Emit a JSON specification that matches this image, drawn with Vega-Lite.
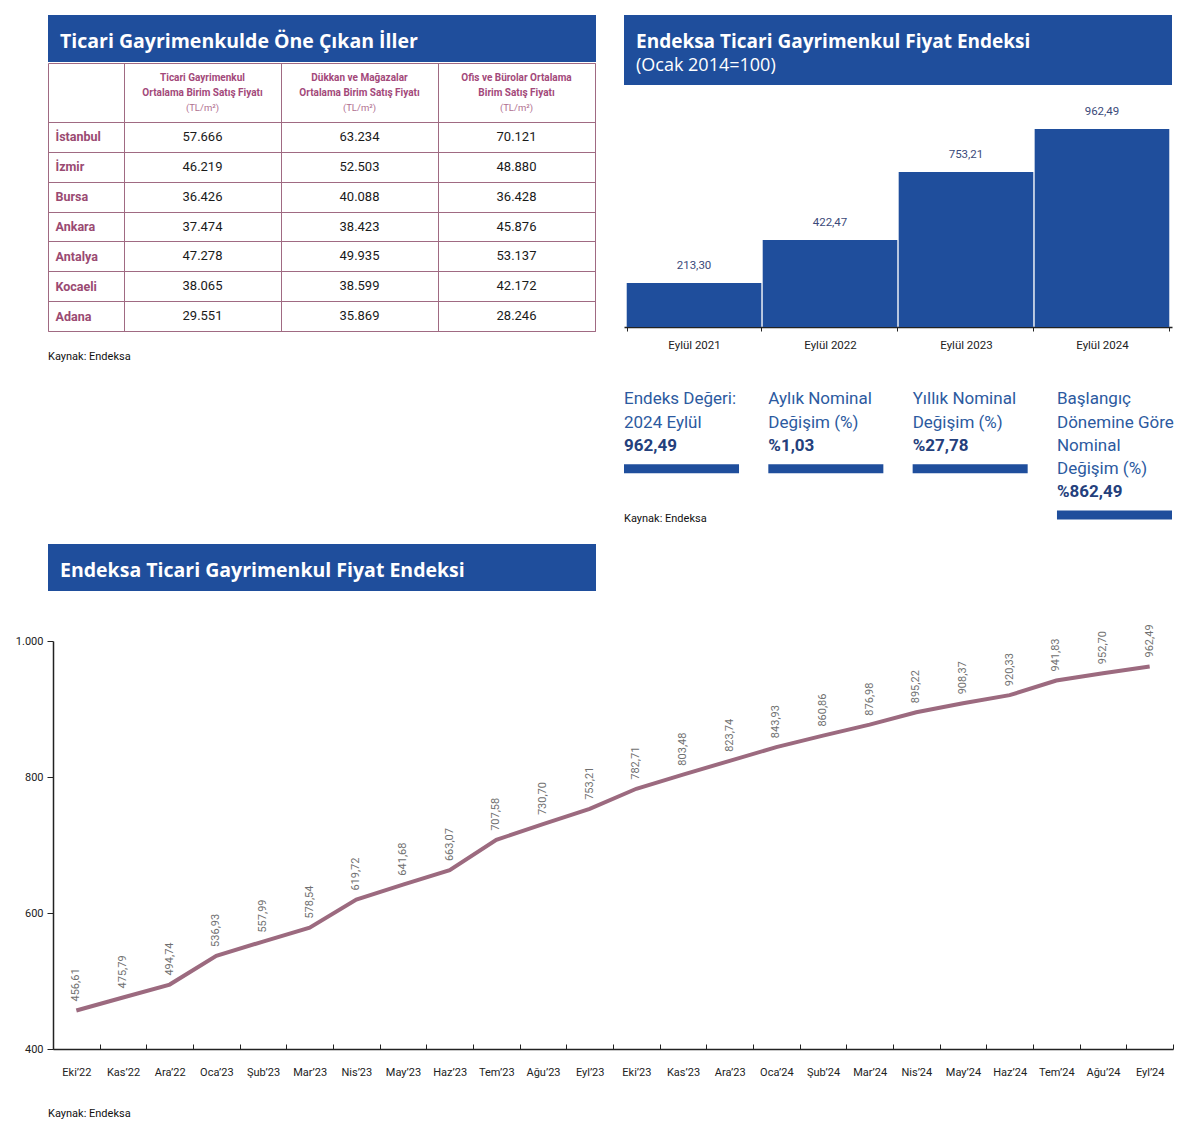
{
  "$schema": "https://vega.github.io/schema/vega-lite/v6.json",
  "background": "white",
  "padding": {"left": 15, "top": 15, "right": 20, "bottom": 10},
  "autosize": {"type": "pad"},
  "config": {
    "view": {"stroke": null},
    "font": "Roboto",
    "locale": {"number": {"decimal": ",", "thousands": ".", "grouping": [3], "currency": ["", ""]}},
    "axis": {"labelFont": "Roboto"}
  },
  "datasets": {
    "table": [
      {"il": "İstanbul", "tg": 57666, "dm": 63234, "ob": 70121},
      {"il": "İzmir", "tg": 46219, "dm": 52503, "ob": 48880},
      {"il": "Bursa", "tg": 36426, "dm": 40088, "ob": 36428},
      {"il": "Ankara", "tg": 37474, "dm": 38423, "ob": 45876},
      {"il": "Antalya", "tg": 47278, "dm": 49935, "ob": 53137},
      {"il": "Kocaeli", "tg": 38065, "dm": 38599, "ob": 42172},
      {"il": "Adana", "tg": 29551, "dm": 35869, "ob": 28246}
    ],
    "tableHeader": [
      {"col": "tg", "line": 1, "text": "Ticari Gayrimenkul"},
      {"col": "tg", "line": 2, "text": "Ortalama Birim Satış Fiyatı"},
      {"col": "tg", "line": 3, "text": "(TL/m²)"},
      {"col": "dm", "line": 1, "text": "Dükkan ve Mağazalar"},
      {"col": "dm", "line": 2, "text": "Ortalama Birim Satış Fiyatı"},
      {"col": "dm", "line": 3, "text": "(TL/m²)"},
      {"col": "ob", "line": 1, "text": "Ofis ve Bürolar Ortalama"},
      {"col": "ob", "line": 2, "text": "Birim Satış Fiyatı"},
      {"col": "ob", "line": 3, "text": "(TL/m²)"}
    ],
    "annual": [
      {"donem": "Eylül 2021", "endeks": 213.30},
      {"donem": "Eylül 2022", "endeks": 422.47},
      {"donem": "Eylül 2023", "endeks": 753.21},
      {"donem": "Eylül 2024", "endeks": 962.49}
    ],
    "kpi": [
      {"kpi": "Endeks Değeri", "line": 1, "kind": "label", "text": "Endeks Değeri:"},
      {"kpi": "Endeks Değeri", "line": 2, "kind": "label", "text": "2024 Eylül"},
      {"kpi": "Endeks Değeri", "line": 3, "kind": "value", "text": "962,49"},
      {"kpi": "Endeks Değeri", "line": 4, "kind": "bar", "text": ""},
      {"kpi": "Aylık", "line": 1, "kind": "label", "text": "Aylık Nominal"},
      {"kpi": "Aylık", "line": 2, "kind": "label", "text": "Değişim (%)"},
      {"kpi": "Aylık", "line": 3, "kind": "value", "text": "%1,03"},
      {"kpi": "Aylık", "line": 4, "kind": "bar", "text": ""},
      {"kpi": "Yıllık", "line": 1, "kind": "label", "text": "Yıllık Nominal"},
      {"kpi": "Yıllık", "line": 2, "kind": "label", "text": "Değişim (%)"},
      {"kpi": "Yıllık", "line": 3, "kind": "value", "text": "%27,78"},
      {"kpi": "Yıllık", "line": 4, "kind": "bar", "text": ""},
      {"kpi": "Başlangıç", "line": 1, "kind": "label", "text": "Başlangıç"},
      {"kpi": "Başlangıç", "line": 2, "kind": "label", "text": "Dönemine Göre"},
      {"kpi": "Başlangıç", "line": 3, "kind": "label", "text": "Nominal"},
      {"kpi": "Başlangıç", "line": 4, "kind": "label", "text": "Değişim (%)"},
      {"kpi": "Başlangıç", "line": 5, "kind": "value", "text": "%862,49"},
      {"kpi": "Başlangıç", "line": 6, "kind": "bar", "text": ""}
    ],
    "monthly": [
      {"ay": "Eki’22", "endeks": 456.61},
      {"ay": "Kas’22", "endeks": 475.79},
      {"ay": "Ara’22", "endeks": 494.74},
      {"ay": "Oca’23", "endeks": 536.93},
      {"ay": "Şub’23", "endeks": 557.99},
      {"ay": "Mar’23", "endeks": 578.54},
      {"ay": "Nis’23", "endeks": 619.72},
      {"ay": "May’23", "endeks": 641.68},
      {"ay": "Haz’23", "endeks": 663.07},
      {"ay": "Tem’23", "endeks": 707.58},
      {"ay": "Ağu’23", "endeks": 730.70},
      {"ay": "Eyl’23", "endeks": 753.21},
      {"ay": "Eki’23", "endeks": 782.71},
      {"ay": "Kas’23", "endeks": 803.48},
      {"ay": "Ara’23", "endeks": 823.74},
      {"ay": "Oca’24", "endeks": 843.93},
      {"ay": "Şub’24", "endeks": 860.86},
      {"ay": "Mar’24", "endeks": 876.98},
      {"ay": "Nis’24", "endeks": 895.22},
      {"ay": "May’24", "endeks": 908.37},
      {"ay": "Haz’24", "endeks": 920.33},
      {"ay": "Tem’24", "endeks": 941.83},
      {"ay": "Ağu’24", "endeks": 952.70},
      {"ay": "Eyl’24", "endeks": 962.49}
    ]
  },
  "spacing": 17,
  "vconcat": [
    {
      "hconcat": [
        {
          "spacing": -6,
          "vconcat": [
            {
              "width": 548, "height": 47,
              "data": {"values": [{}]},
              "mark": {"type": "rect", "color": "#1f4e9c"},
              "encoding": {},
              "title": {"text": "Ticari Gayrimenkulde Öne Çıkan İller", "anchor": "start", "frame": "group", "offset": -37, "dx": 12, "baseline": "top", "color": "white", "font": "Open Sans", "fontSize": 19.5, "fontWeight": "bold"}
            },
            {
              "width": 547, "height": 268,
              "view": {"stroke": "#a06a82", "strokeWidth": 1},
              "resolve": {"scale": {"y": "independent"}},
              "title": {"text": "Kaynak: Endeksa", "orient": "bottom", "anchor": "start", "frame": "group", "offset": 19, "baseline": "top", "color": "#111", "fontSize": 11, "fontWeight": "normal"},
              "layer": [
                {
                  "data": {"name": "table"},
                  "transform": [{"fold": ["tg", "dm", "ob"], "as": ["col", "val"]}],
                  "mark": {"type": "text", "fontSize": 13, "color": "#1a1a1a"},
                  "encoding": {
                    "x": {"field": "col", "type": "nominal", "scale": {"domain": ["tg", "dm", "ob"], "range": [76, 547], "paddingInner": 0, "paddingOuter": 0},
                      "axis": {"orient": "top", "title": null, "labels": false, "ticks": true, "tickSize": -59, "tickColor": "#a06a82", "tickWidth": 1, "domain": false, "grid": true, "tickBand": "extent", "gridColor": "#a06a82", "gridOpacity": 1, "gridWidth": 1}},
                    "y": {"field": "il", "type": "nominal", "sort": null,
                      "scale": {"domain": ["İstanbul", "İzmir", "Bursa", "Ankara", "Antalya", "Kocaeli", "Adana"], "range": [59, 268], "paddingInner": 0, "paddingOuter": 0},
                      "axis": {"orient": "left", "title": null, "ticks": true, "tickSize": -76, "tickColor": "#a06a82", "tickWidth": 1, "domain": false, "grid": true, "tickBand": "extent", "gridColor": "#a06a82", "gridOpacity": 1, "gridWidth": 1, "labelAlign": "left", "labelPadding": 69, "labelColor": "#9a4a72", "labelFontWeight": "bold", "labelFontSize": 12.5}},
                    "text": {"field": "val", "type": "quantitative", "format": ",d"}
                  }
                },
                {
                  "data": {"name": "tableHeader"},
                  "transform": [{"filter": "datum.line < 3"}],
                  "mark": {"type": "text", "fontSize": 10, "fontWeight": "bold", "color": "#a3497a"},
                  "encoding": {
                    "x": {"field": "col", "type": "nominal"},
                    "y": {"field": "line", "type": "ordinal", "scale": {"domain": [1, 2], "range": [7.5, 37.5]}, "axis": null},
                    "text": {"field": "text"}
                  }
                },
                {
                  "data": {"name": "tableHeader"},
                  "transform": [{"filter": "datum.line == 3"}],
                  "mark": {"type": "text", "fontSize": 9.5, "color": "#b0708f"},
                  "encoding": {
                    "x": {"field": "col", "type": "nominal"},
                    "y": {"field": "line", "type": "ordinal", "scale": {"domain": [3], "range": [37.5, 52.5]}, "axis": null},
                    "text": {"field": "text"}
                  }
                }
              ]
            }
          ]
        },
        {
          "spacing": 0,
          "vconcat": [
            {
              "width": 548, "height": 70,
              "data": {"values": [{}]},
              "mark": {"type": "rect", "color": "#1f4e9c"},
              "encoding": {},
              "title": {"text": "Endeksa Ticari Gayrimenkul Fiyat Endeksi", "subtitle": "(Ocak 2014=100)", "anchor": "start", "frame": "group", "offset": -60, "dx": 12, "baseline": "top", "color": "white", "font": "Open Sans", "fontSize": 19, "fontWeight": "bold", "subtitleColor": "white", "subtitleFont": "Open Sans", "subtitleFontSize": 18, "subtitleFontWeight": "normal", "subtitlePadding": 5}
            },
            {
              "width": 548, "height": 242,
              "data": {"name": "annual"},
              "encoding": {
                "x": {"field": "donem", "type": "nominal", "sort": null, "scale": {"paddingInner": 0.01, "paddingOuter": 0.02},
                  "axis": {"title": null, "labelAngle": 0, "domainColor": "#222", "domainWidth": 1.5, "tickColor": "#222", "tickSize": 4, "tickBand": "extent", "labelPadding": 8, "labelFontSize": 11.5, "labelColor": "#222"}},
                "y": {"field": "endeks", "type": "quantitative", "scale": {"domain": [0, 1176], "nice": false}, "axis": null}
              },
              "layer": [
                {"mark": {"type": "bar", "color": "#1f4e9c"}},
                {"mark": {"type": "text", "baseline": "bottom", "dy": -12, "fontSize": 11.5, "color": "#3b4a7a"},
                  "encoding": {"text": {"field": "endeks", "type": "quantitative", "format": ",.2f"}}}
              ]
            },
            {
              "width": 548, "height": 175.5,
              "data": {"name": "kpi"},
              "title": {"text": "Kaynak: Endeksa", "orient": "bottom", "anchor": "start", "frame": "group", "offset": -14, "baseline": "top", "color": "#111", "fontSize": 11, "fontWeight": "normal"},
              "encoding": {
                "x": {"field": "kpi", "type": "nominal", "sort": null, "scale": {"paddingInner": 0.203, "paddingOuter": 0}, "axis": null},
                "y": {"field": "line", "type": "ordinal", "scale": {"domain": [1, 2, 3, 4, 5, 6], "paddingInner": 0, "paddingOuter": 0.8, "align": 1}, "axis": null}
              },
              "layer": [
                {
                  "transform": [{"filter": "datum.kind == 'label'"}],
                  "mark": {"type": "text", "align": "left", "fontSize": 17, "color": "#2c5aa0"},
                  "encoding": {"x": {"field": "kpi", "type": "nominal", "sort": null, "bandPosition": 0}, "text": {"field": "text"}}
                },
                {
                  "transform": [{"filter": "datum.kind == 'value'"}],
                  "mark": {"type": "text", "align": "left", "fontSize": 17, "fontWeight": "bold", "color": "#24407c"},
                  "encoding": {"x": {"field": "kpi", "type": "nominal", "sort": null, "bandPosition": 0}, "text": {"field": "text"}}
                },
                {
                  "transform": [{"filter": "datum.kind == 'bar'"}],
                  "mark": {"type": "bar", "height": 9, "color": "#1f4e9c"}
                }
              ]
            }
          ]
        }
      ],
      "spacing": 28
    },
    {
      "spacing": 33,
      "vconcat": [
        {
          "width": 548, "height": 47,
          "data": {"values": [{}]},
          "mark": {"type": "rect", "color": "#1f4e9c"},
          "encoding": {},
          "title": {"text": "Endeksa Ticari Gayrimenkul Fiyat Endeksi", "anchor": "start", "frame": "group", "offset": -37, "dx": 12, "baseline": "top", "color": "white", "font": "Open Sans", "fontSize": 19.5, "fontWeight": "bold"}
        },
        {
          "width": 1125, "height": 408,
          "data": {"name": "monthly"},
          "title": {"text": "Kaynak: Endeksa", "orient": "bottom", "anchor": "start", "frame": "group", "offset": 31, "baseline": "top", "color": "#111", "fontSize": 11, "fontWeight": "normal"},
          "encoding": {
            "x": {"field": "ay", "type": "nominal",
              "sort": ["Eki’22", "Kas’22", "Ara’22", "Oca’23", "Şub’23", "Mar’23", "Nis’23", "May’23", "Haz’23", "Tem’23", "Ağu’23", "Eyl’23", "Eki’23", "Kas’23", "Ara’23", "Oca’24", "Şub’24", "Mar’24", "Nis’24", "May’24", "Haz’24", "Tem’24", "Ağu’24", "Eyl’24"],
              "scale": {"range": [5, 1125], "paddingInner": 0, "paddingOuter": 0},
              "axis": {"title": null, "labelAngle": 0, "domainColor": "#222", "domainWidth": 1.5, "tickColor": "#222", "tickSize": -5, "tickBand": "extent", "labelPadding": 22, "labelFontSize": 11, "labelColor": "#222"}},
            "y": {"field": "endeks", "type": "quantitative", "scale": {"domain": [400, 1000], "nice": false, "zero": false},
              "axis": {"title": null, "values": [400, 600, 800, 1000], "format": ",d", "offset": -5, "grid": false, "domainColor": "#222", "domainWidth": 1.5, "tickColor": "#222", "tickSize": 6, "labelPadding": 4, "labelFontSize": 11, "labelColor": "#222"}}
          },
          "layer": [
            {"mark": {"type": "line", "color": "#9c6a7f", "strokeWidth": 4}},
            {"mark": {"type": "text", "angle": 270, "align": "left", "baseline": "middle", "dx": 9, "fontSize": 11, "color": "#707070"},
              "encoding": {"text": {"field": "endeks", "type": "quantitative", "format": ",.2f"}}}
          ]
        }
      ]
    }
  ]
}
